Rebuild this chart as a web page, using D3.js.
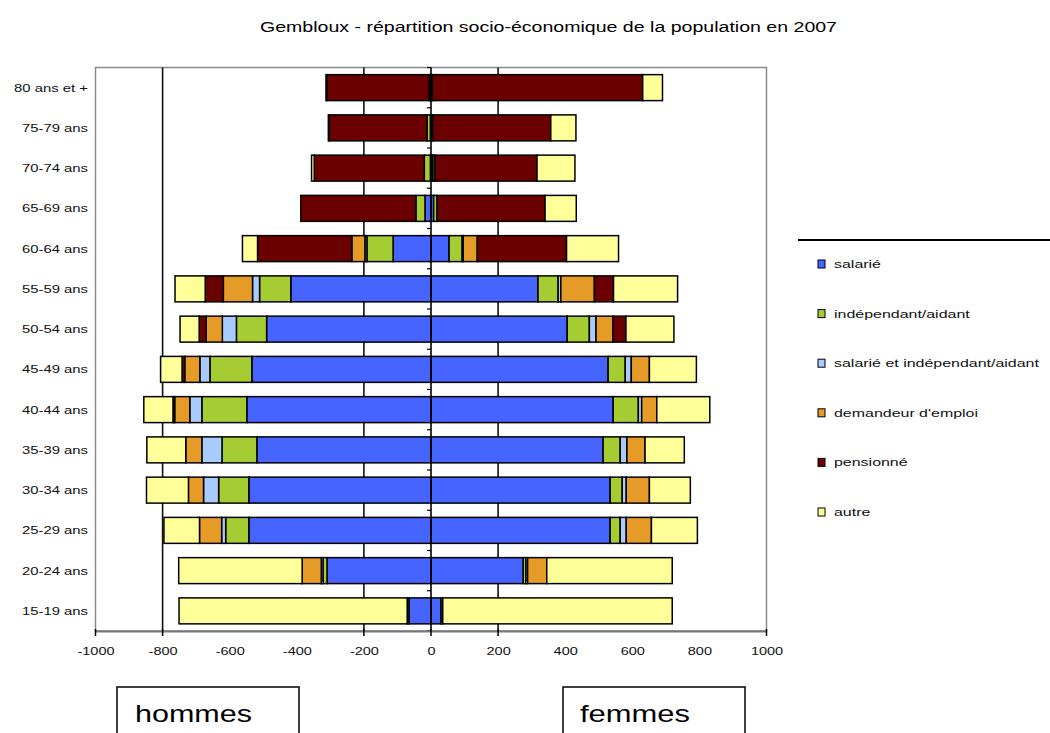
<!DOCTYPE html>
<html><head><meta charset="utf-8">
<script src="https://cdn.jsdelivr.net/npm/d3@7"></script>
<style>html,body{margin:0;padding:0;background:#fff;} svg{display:block;font-family:"Liberation Sans",Arial,sans-serif;}</style>
</head><body>
<svg id="chart" width="1050" height="733"></svg>
<script>
// ---------- data ----------
const ageGroups = ["15-19 ans","20-24 ans","25-29 ans","30-34 ans","35-39 ans","40-44 ans","45-49 ans","50-54 ans","55-59 ans","60-64 ans","65-69 ans","70-74 ans","75-79 ans","80 ans et +"];
const seriesNames = ["salarié","indépendant/aidant","salarié et indépendant/aidant","demandeur d'emploi","pensionné","autre"];
const seriesColors = ["#4664FF","#A6CC33","#A8CCFF","#E69B28","#6A0000","#FFFF99"];

// hommes (plotted to the left)
const menSalarie   = [66, 310, 543, 543, 519, 549, 534, 490, 418, 113, 18, 2, 2, 3];
const menIndep     = [5, 12, 69, 90, 104, 134, 125, 90, 93, 78, 27, 18, 10, 3];
const menSalIndep  = [0, 5, 12, 45, 60, 36, 30, 42, 21, 6, 0, 0, 0, 0];
const menDemandeur = [0, 57, 66, 45, 48, 45, 45, 48, 87, 39, 0, 0, 0, 0];
const menPension   = [0, 0, 0, 0, 0, 5, 8, 21, 54, 281, 343, 328, 292, 305];
const menAutre     = [680, 368, 106, 125, 116, 87, 64, 57, 90, 45, 0, 8, 2, 2];

// femmes (plotted to the right)
const womenSalarie   = [30, 275, 534, 534, 513, 543, 528, 406, 319, 54, 8, 6, 2, 2];
const womenIndep     = [5, 8, 30, 36, 51, 75, 51, 66, 60, 39, 10, 6, 3, 2];
const womenSalIndep  = [0, 5, 18, 12, 20, 10, 18, 20, 8, 3, 0, 0, 0, 0];
const womenDemandeur = [0, 57, 75, 69, 54, 45, 54, 50, 100, 42, 0, 0, 0, 0];
const womenPension   = [0, 0, 0, 0, 0, 0, 0, 39, 57, 266, 322, 304, 352, 627];
const womenAutre     = [684, 374, 137, 122, 117, 158, 140, 143, 191, 155, 93, 113, 75, 59];

const xTickValues = [-1000,-800,-600,-400,-200,0,200,400,600,800,1000];
const xTickMarks = [-1000,-800,-200,0,200,1000];
const gridValues = [-800,-200,200];
const title = "Gembloux - répartition socio-économique de la population en 2007";
const sideLabels = ["hommes","femmes"];

// ---------- layout ----------
const svg = d3.select("#chart");
const plot = {left:95.5, right:766.5, top:67.5, bottom:631};

const x = d3.scaleLinear().domain([-1000,1000]).range([plot.left, plot.right]);
const y = d3.scaleBand().domain(ageGroups.slice().reverse()).range([plot.top, plot.bottom])
  .paddingInner(0.355).paddingOuter(0.1775);

function stretch(sel, k){
  sel.each(function(){
    const w = this.getComputedTextLength();
    this.setAttribute("textLength", w*k);
    this.setAttribute("lengthAdjust","spacingAndGlyphs");
  });
}

// title
svg.append("text").attr("x",548.5).attr("y",32).attr("text-anchor","middle")
  .attr("font-size",14).attr("fill","#000").attr("textLength",577).attr("lengthAdjust","spacingAndGlyphs")
  .text(title);

// plot border
svg.append("rect").attr("x",plot.left).attr("y",plot.top).attr("width",plot.right-plot.left)
  .attr("height",plot.bottom-plot.top).attr("fill","#fff").attr("stroke","#8a8a8a").attr("stroke-width",1.5);

// grid lines
svg.append("g").selectAll("line").data(gridValues).join("line")
  .attr("x1",d=>x(d)).attr("x2",d=>x(d)).attr("y1",plot.top).attr("y2",plot.bottom)
  .attr("stroke","#111").attr("stroke-width",1.6);

// stacked bars
const menSeries = [menSalarie,menIndep,menSalIndep,menDemandeur,menPension,menAutre];
const womenSeries = [womenSalarie,womenIndep,womenSalIndep,womenDemandeur,womenPension,womenAutre];

function buildSegments(seriesArr, sign){
  const segs = [];
  ageGroups.forEach((age,i)=>{
    let acc = 0;
    seriesArr.forEach((arr,s)=>{
      const v = arr[i];
      if(v>0){ segs.push({age, s, v0:sign*acc, v1:sign*(acc+v)}); }
      acc += v;
    });
  });
  return segs;
}
const segments = buildSegments(menSeries,-1).concat(buildSegments(womenSeries,1));

svg.append("g").selectAll("rect").data(segments).join("rect")
  .attr("x",d=>x(Math.min(d.v0,d.v1)))
  .attr("width",d=>Math.abs(x(d.v1)-x(d.v0)))
  .attr("y",d=>y(d.age)).attr("height",y.bandwidth())
  .attr("fill",d=>seriesColors[d.s]).attr("stroke","#000").attr("stroke-width",1.5);

// category axis at x = 0
const yAxisG = svg.append("g");
yAxisG.append("line").attr("x1",x(0)).attr("x2",x(0)).attr("y1",plot.top).attr("y2",plot.bottom)
  .attr("stroke","#000").attr("stroke-width",1.6);
const boundaries = d3.range(ageGroups.length+1).map(i=>plot.top + i*y.step());
yAxisG.selectAll("line.tk").data(boundaries).join("line").attr("class","tk")
  .attr("x1",x(0)-4).attr("x2",x(0)).attr("y1",d=>d).attr("y2",d=>d)
  .attr("stroke","#000").attr("stroke-width",1.2);

// category labels
const catLabels = svg.append("g").selectAll("text").data(ageGroups).join("text")
  .attr("x",88).attr("y",d=>y(d)+y.bandwidth()/2+4)
  .attr("text-anchor","end").attr("font-size",11).attr("fill","#111").text(d=>d);
stretch(catLabels,1.35);

// bottom axis
const xAxis = d3.axisBottom(x).tickValues(xTickValues).tickSize(0).tickPadding(17).tickFormat(d=>String(d));
const xAxisG = svg.append("g").attr("transform",`translate(0,${plot.bottom})`).call(xAxis);
xAxisG.select(".domain").attr("stroke","#777").attr("stroke-width",2);
xAxisG.selectAll("text").attr("font-size",10).attr("fill","#111").attr("font-family","Liberation Sans, Arial, sans-serif");
stretch(xAxisG.selectAll("text"),1.45);
xAxisG.selectAll("line.mk").data(xTickMarks).join("line").attr("class","mk")
  .attr("x1",d=>x(d)).attr("x2",d=>x(d)).attr("y1",-2).attr("y2",5)
  .attr("stroke","#000").attr("stroke-width",1.5);

// legend
const legend = svg.append("g");
legend.append("line").attr("x1",798).attr("x2",1050).attr("y1",240).attr("y2",240)
  .attr("stroke","#000").attr("stroke-width",2);
const legItems = legend.selectAll("g.it").data(seriesNames).join("g").attr("class","it")
  .attr("transform",(d,i)=>`translate(818,${264 + i*49.6})`);
legItems.append("rect").attr("x",0).attr("y",-4).attr("width",7).attr("height",8)
  .attr("fill",(d,i)=>seriesColors[i]).attr("stroke","#000").attr("stroke-width",1);
const legTexts = legItems.append("text").attr("x",16).attr("y",4).attr("font-size",11).attr("fill","#111").text(d=>d);
stretch(legTexts,1.45);

// hommes / femmes boxes
const boxes = [{label:sideLabels[0], x0:117, x1:299, tx:135, tw:117},{label:sideLabels[1], x0:563, x1:745, tx:580, tw:110}];
const bx = svg.append("g").selectAll("g").data(boxes).join("g");
bx.append("rect").attr("x",d=>d.x0).attr("y",687).attr("width",d=>d.x1-d.x0).attr("height",80)
  .attr("fill","#fff").attr("stroke","#000").attr("stroke-width",1.5);
bx.append("text").attr("x",d=>d.tx).attr("y",722).attr("font-size",24).attr("fill","#000")
  .attr("textLength",d=>d.tw).attr("lengthAdjust","spacingAndGlyphs").text(d=>d.label);
</script>
</body></html>
